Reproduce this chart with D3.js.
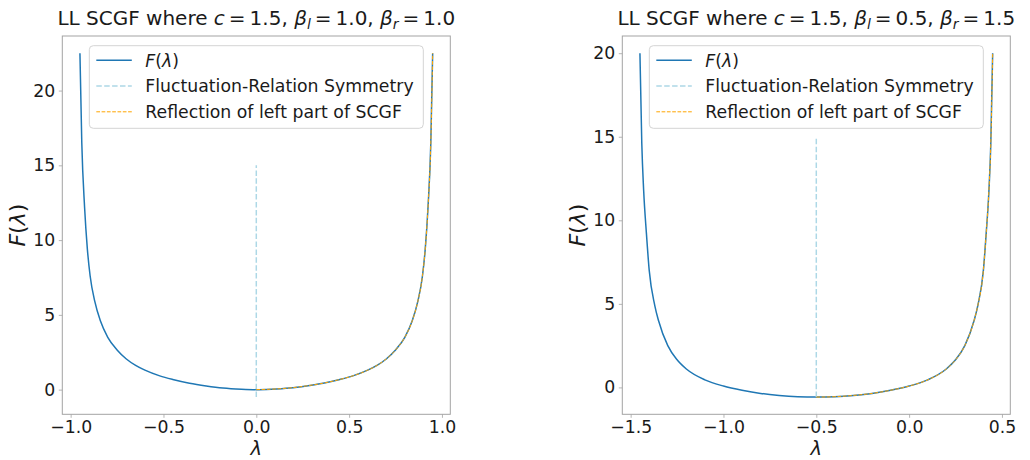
<!DOCTYPE html>
<html>
<head>
<meta charset="utf-8">
<script src="https://cdn.jsdelivr.net/npm/d3@7"></script>
<style>
  body { margin: 0; background: #fff; }
  svg { display: block; }
  text { font-family: "DejaVu Sans", sans-serif; fill: #1a1a1a; }
</style>
</head>
<body>
<svg id="chart" width="1030" height="460"></svg>
<script>
// ---- Panel A: c = 1.5, beta_l = 1.0, beta_r = 1.0 ----
const lambdaA = [-0.95, -0.94, -0.925, -0.91, -0.895, -0.87, -0.84, -0.8, -0.75, -0.7, -0.65, -0.6, -0.52, -0.45, -0.36, -0.27, -0.18, -0.08, 0,
                 0.08, 0.18, 0.27, 0.36, 0.45, 0.52, 0.6, 0.65, 0.7, 0.75, 0.8, 0.84, 0.87, 0.895, 0.91, 0.925, 0.94, 0.95];
const scgfA = [22.5, 16.5, 12.2, 9.4, 7.6, 5.9, 4.6, 3.5, 2.65, 2.05, 1.62, 1.3, 0.92, 0.68, 0.43, 0.25, 0.11, 0.03, 0,
               0.03, 0.11, 0.25, 0.43, 0.68, 0.92, 1.3, 1.62, 2.05, 2.65, 3.5, 4.6, 5.9, 7.6, 9.4, 12.2, 16.5, 22.5];
const symmetryA = 0.0;          // fluctuation-relation symmetry point
const symmetrySpanA = [-0.5, 15];
const xTicksA = [-1.0, -0.5, 0.0, 0.5, 1.0];
const yTicksA = [0, 5, 10, 15, 20];
const paramsA = ["1.5", "1.0", "1.0"];

// ---- Panel B: c = 1.5, beta_l = 0.5, beta_r = 1.5 ----
const lambdaB = [-1.45, -1.44, -1.43, -1.415, -1.4, -1.37, -1.35, -1.3, -1.25, -1.2, -1.1, -1.0, -0.9, -0.8, -0.7, -0.6, -0.5,
                 -0.4, -0.3, -0.2, -0.1, 0.0, 0.1, 0.2, 0.25, 0.3, 0.35, 0.37, 0.4, 0.415, 0.43, 0.44, 0.45];
const scgfB = [20.0, 14.6, 11.8, 9.2, 7.0, 4.9, 4.0, 2.5, 1.65, 1.1, 0.45, 0.08, -0.17, -0.36, -0.48, -0.555, -0.58,
               -0.555, -0.48, -0.36, -0.17, 0.08, 0.45, 1.1, 1.65, 2.5, 4.0, 4.9, 7.0, 9.2, 11.8, 14.6, 20.0];
const symmetryB = -0.5;
const symmetrySpanB = [-0.58, 15];
const xTicksB = [-1.5, -1.0, -0.5, 0.0, 0.5];
const yTicksB = [0, 5, 10, 15, 20];
const paramsB = ["1.5", "0.5", "1.5"];

const svg = d3.select("#chart");
const spineColor = "#a3a3a3";
const fmt = d3.format(".1f");
const tickFont = 17.3, legendFont = 17.3, titleFont = 20;

function drawPanel(opt) {
  const { left, right, top, bottom, lambda, scgf, sym, symSpan, xTicks, yTicks, params } = opt;
  const pts = lambda.map((l, i) => ({ l, f: scgf[i] }));
  // left part of the SCGF reflected about the symmetry point
  const reflected = pts.filter(p => p.l <= sym).map(p => ({ l: 2 * sym - p.l, f: p.f })).reverse();

  const xExt = d3.extent(lambda);
  const yExt = [Math.min(d3.min(scgf), symSpan[0]), Math.max(d3.max(scgf), symSpan[1])];
  const xPad = (xExt[1] - xExt[0]) * 0.05, yPad = (yExt[1] - yExt[0]) * 0.05;
  const x = d3.scaleLinear().domain([xExt[0] - xPad, xExt[1] + xPad]).range([left, right]);
  const y = d3.scaleLinear().domain([yExt[0] - yPad, yExt[1] + yPad]).range([bottom, top]);

  const g = svg.append("g");
  const clipId = "clip" + Math.round(left);
  g.append("clipPath").attr("id", clipId).append("rect")
    .attr("x", left).attr("y", top).attr("width", right - left).attr("height", bottom - top);

  const line = d3.line().x(d => x(d.l)).y(d => y(d.f)).curve(d3.curveMonotoneX);
  const plot = g.append("g").attr("clip-path", `url(#${clipId})`);

  plot.append("path").datum(pts).attr("d", line)
    .attr("fill", "none").attr("stroke", "#1f77b4").attr("stroke-width", 1.5);
  plot.append("line")
    .attr("x1", x(sym)).attr("x2", x(sym)).attr("y1", y(symSpan[0])).attr("y2", y(symSpan[1]))
    .attr("stroke", "#add8e6").attr("stroke-width", 1.5).attr("stroke-dasharray", "5.5,2.4");
  plot.append("path").datum(reflected).attr("d", line)
    .attr("fill", "none").attr("stroke", "#ffa500").attr("stroke-width", 1).attr("stroke-dasharray", "3.7,1.6");

  // axes
  const xAxis = d3.axisBottom(x).tickValues(xTicks).tickFormat(fmt).tickSizeInner(3.5).tickSizeOuter(0).tickPadding(3);
  const yAxis = d3.axisLeft(y).tickValues(yTicks).tickFormat(d3.format("d")).tickSizeInner(3.5).tickSizeOuter(0).tickPadding(3.5);
  const gx = g.append("g").attr("transform", `translate(0,${bottom})`).call(xAxis);
  const gy = g.append("g").attr("transform", `translate(${left},0)`).call(yAxis);
  [gx, gy].forEach(a => {
    a.select(".domain").remove();
    a.selectAll(".tick line").attr("stroke", spineColor).attr("stroke-width", 0.8);
    a.selectAll(".tick text").attr("font-size", tickFont).attr("fill", "#1a1a1a")
      .style("font-family", '"DejaVu Sans", sans-serif');
  });

  // frame
  g.append("rect").attr("x", left).attr("y", top).attr("width", right - left).attr("height", bottom - top)
    .attr("fill", "none").attr("stroke", spineColor).attr("stroke-width", 1);

  // axis labels
  const cx = (left + right) / 2, cy = (top + bottom) / 2;
  g.append("text").attr("x", cx).attr("y", 455).attr("text-anchor", "middle")
    .attr("font-size", 19.5).attr("font-style", "italic").text("λ");
  const yl = g.append("text").attr("transform", `translate(${left - 37},${cy}) rotate(-90)`)
    .attr("text-anchor", "middle").attr("font-size", 22);
  yl.append("tspan").attr("font-style", "italic").text("F");
  yl.append("tspan").text("(");
  yl.append("tspan").attr("font-style", "italic").text("λ");
  yl.append("tspan").text(")");

  // title
  const t = g.append("text").attr("x", cx).attr("y", 25).attr("text-anchor", "middle").attr("font-size", titleFont);
  t.append("tspan").text("LL SCGF where ");
  t.append("tspan").attr("font-style", "italic").text("c");
  t.append("tspan").text("\u2009=\u2009" + params[0] + ", ");
  t.append("tspan").attr("font-style", "italic").text("β");
  t.append("tspan").attr("font-style", "italic").attr("font-size", 14).attr("dy", 4).text("l");
  t.append("tspan").attr("dy", -4).text("\u2009=\u2009" + params[1] + ", ");
  t.append("tspan").attr("font-style", "italic").text("β");
  t.append("tspan").attr("font-style", "italic").attr("font-size", 14).attr("dy", 4).text("r");
  t.append("tspan").attr("dy", -4).text("\u2009=\u2009" + params[2]);

  // legend
  const lx = left + 27, ly = top + 9.7, lw = 334, lh = 82.6;
  const lg = g.append("g");
  lg.append("rect").attr("x", lx).attr("y", ly).attr("width", lw).attr("height", lh).attr("rx", 4)
    .attr("fill", "#fff").attr("fill-opacity", 0.8).attr("stroke", "#d4d4d4").attr("stroke-width", 1);
  const items = [
    { label: null, color: "#1f77b4", w: 1.5, dash: null },
    { label: "Fluctuation-Relation Symmetry", color: "#add8e6", w: 1.5, dash: "5.5,2.4" },
    { label: "Reflection of left part of SCGF", color: "#ffa500", w: 1, dash: "3.7,1.6" }
  ];
  items.forEach((it, i) => {
    const yy = ly + 14.5 + i * 25.8;
    lg.append("line").attr("x1", lx + 7).attr("x2", lx + 42.5).attr("y1", yy).attr("y2", yy)
      .attr("stroke", it.color).attr("stroke-width", it.w).attr("stroke-dasharray", it.dash);
    const tx = lg.append("text").attr("x", lx + 56).attr("y", yy + 6.3).attr("font-size", legendFont);
    if (it.label) tx.text(it.label);
    else {
      tx.append("tspan").attr("font-style", "italic").text("F");
      tx.append("tspan").text("(");
      tx.append("tspan").attr("font-style", "italic").text("λ");
      tx.append("tspan").text(")");
    }
  });
}

drawPanel({ left: 62.3, right: 450.3, top: 36, bottom: 414.3, lambda: lambdaA, scgf: scgfA,
  sym: symmetryA, symSpan: symmetrySpanA, xTicks: xTicksA, yTicks: yTicksA, params: paramsA });
drawPanel({ left: 622.3, right: 1010.3, top: 36, bottom: 414.3, lambda: lambdaB, scgf: scgfB,
  sym: symmetryB, symSpan: symmetrySpanB, xTicks: xTicksB, yTicks: yTicksB, params: paramsB });
</script>
</body>
</html>
